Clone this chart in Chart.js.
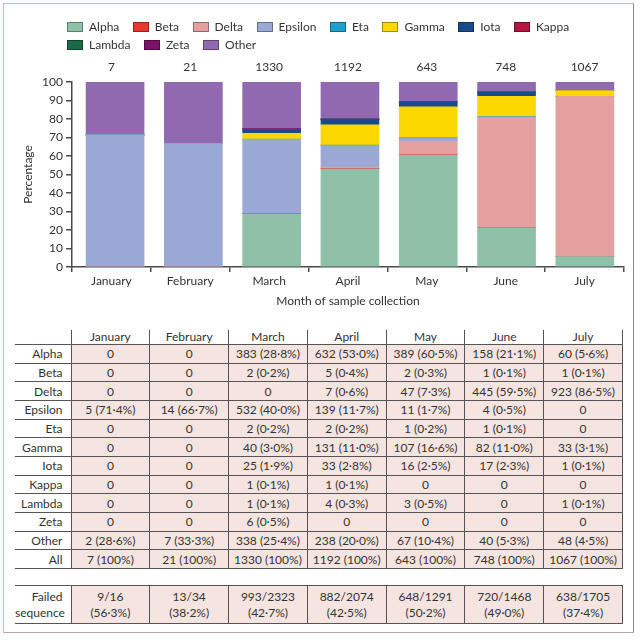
<!DOCTYPE html>
<html>
<head>
<meta charset="utf-8">
<script src="https://cdn.jsdelivr.net/npm/chart.js@4.4.0/dist/chart.umd.min.js"></script>
<style>
  html, body { margin: 0; padding: 0; background: #fff; }
  body { width: 640px; height: 640px; position: relative; overflow: hidden; font-family: Lato, sans-serif; color: #333; }
  #frame { position: absolute; left: 3px; top: 3px; width: 629px; height: 628px; border: 1.5px solid #dcaec3; border-right-color: #8e878a; border-bottom-color: #bba6b0; }
  #chartBox { position: absolute; left: 0; top: 0; }
  #legend { position: absolute; left: 67px; top: 20px; width: 540px; display: flex; flex-wrap: wrap; column-gap: 13.5px; row-gap: 4px; font-size: 12px; line-height: 14px; }
  .item { display: flex; align-items: center; }
  .swatch { width: 14px; height: 8px; border: 1px solid rgba(0,0,0,.35); margin-right: 6px; }
  table { position: absolute; left: 15px; width: 608px; border-collapse: collapse; table-layout: fixed; font-size: 12px; color: #333; }
  col.lab { width: 56px; }
  th, td { padding: 0; text-align: center; white-space: nowrap; font-weight: normal; }
  td { background: #f6e4e0; height: 17.67px; border: 1.5px solid #555; }
  td.lab { background: #fff; text-align: right; padding-right: 8px; border-left: none; }
  th { height: 14px; border-left: 1.5px solid #555; border-right: 1.5px solid #555; border-top: none; vertical-align: top; line-height: 13px; }
  th.lab { border-left: none; }
  #main { top: 330px; }
  #failed { top: 585px; }
  #failed td { height: 37px; line-height: 16px; }
</style>
</head>
<body>
<div id="frame"></div>
<div id="chartBox"><canvas id="chart" width="640" height="315"></canvas></div>
<div id="legend"></div>
<table id="main"></table>
<table id="failed"></table>
<script>
const months = ['January', 'February', 'March', 'April', 'May', 'June', 'July'];
const variants = ['Alpha', 'Beta', 'Delta', 'Epsilon', 'Eta', 'Gamma', 'Iota', 'Kappa', 'Lambda', 'Zeta', 'Other'];
const totals = [7, 21, 1330, 1192, 643, 748, 1067];

// counts per variant
const alphaN   = [0, 0, 383, 632, 389, 158, 60];
const betaN    = [0, 0, 2, 5, 2, 1, 1];
const deltaN   = [0, 0, 0, 7, 47, 445, 923];
const epsilonN = [5, 14, 532, 139, 11, 4, 0];
const etaN     = [0, 0, 2, 2, 1, 1, 0];
const gammaN   = [0, 0, 40, 131, 107, 82, 33];
const iotaN    = [0, 0, 25, 33, 16, 17, 1];
const kappaN   = [0, 0, 1, 1, 0, 0, 0];
const lambdaN  = [0, 0, 1, 4, 3, 0, 1];
const zetaN    = [0, 0, 6, 0, 0, 0, 0];
const otherN   = [2, 7, 338, 238, 67, 40, 48];

// percentages per variant
const alphaPct   = [0, 0, 28.8, 53.0, 60.5, 21.1, 5.6];
const betaPct    = [0, 0, 0.2, 0.4, 0.3, 0.1, 0.1];
const deltaPct   = [0, 0, 0, 0.6, 7.3, 59.5, 86.5];
const epsilonPct = [71.4, 66.7, 40.0, 11.7, 1.7, 0.5, 0];
const etaPct     = [0, 0, 0.2, 0.2, 0.2, 0.1, 0];
const gammaPct   = [0, 0, 3.0, 11.0, 16.6, 11.0, 3.1];
const iotaPct    = [0, 0, 1.9, 2.8, 2.5, 2.3, 0.1];
const kappaPct   = [0, 0, 0.1, 0.1, 0, 0, 0];
const lambdaPct  = [0, 0, 0.1, 0.3, 0.5, 0, 0.1];
const zetaPct    = [0, 0, 0.5, 0, 0, 0, 0];
const otherPct   = [28.6, 33.3, 25.4, 20.0, 10.4, 5.3, 4.5];

// failed sequencing
const failedN   = [9, 13, 993, 882, 648, 720, 638];
const attempted = [16, 34, 2323, 2074, 1291, 1468, 1705];
const failedPct = [56.3, 38.2, 42.7, 42.5, 50.2, 49.0, 37.4];

const countRows = [alphaN, betaN, deltaN, epsilonN, etaN, gammaN, iotaN, kappaN, lambdaN, zetaN, otherN];
const pctRows = [alphaPct, betaPct, deltaPct, epsilonPct, etaPct, gammaPct, iotaPct, kappaPct, lambdaPct, zetaPct, otherPct];
const colors = ['#8fc0a8', '#e8372d', '#e3a09f', '#9aa8d5', '#1f9fcd', '#fcd800', '#1b4a8a', '#b31442', '#1b6b47', '#7c1268', '#9069b0'];

Chart.defaults.font.family = 'Lato, sans-serif';
Chart.defaults.font.size = 12;
Chart.defaults.color = '#333';

const htmlLegend = {
  id: 'htmlLegend',
  afterUpdate(chart) {
    const box = document.getElementById('legend');
    box.innerHTML = '';
    chart.options.plugins.legend.labels.generateLabels(chart).forEach(it => {
      const item = document.createElement('div');
      item.className = 'item';
      const sw = document.createElement('span');
      sw.className = 'swatch';
      sw.style.background = it.fillStyle;
      item.appendChild(sw);
      item.appendChild(document.createTextNode(it.text));
      box.appendChild(item);
    });
  }
};

const axisColor = '#4a4a4a';

new Chart(document.getElementById('chart'), {
  type: 'bar',
  data: {
    labels: months,
    datasets: variants.map((name, i) => ({
      label: name,
      data: pctRows[i].map((v, j) => ({ x: j, y: v })),
      xAxisID: 'xb',
      backgroundColor: colors[i],
      borderWidth: 0,
      barThickness: 58
    }))
  },
  options: {
    responsive: false,
    animation: false,
    devicePixelRatio: 1,
    layout: { padding: { top: 60, left: 13, right: 16, bottom: 3 } },
    plugins: { legend: { display: false }, tooltip: { enabled: false } },
    scales: {
      // bars sit slightly right of the month ticks in the original, so they get their own axis
      xb: {
        type: 'linear',
        stacked: true,
        display: false,
        offset: false,
        bounds: 'data',
        min: -0.55,
        max: 6.5,
        grid: { offset: false }
      },
      x: {
        type: 'category',
        offset: true,
        grid: { drawOnChartArea: false, tickLength: 5, color: axisColor, lineWidth: 1.5, offset: true },
        border: { color: axisColor, width: 1.5 },
        ticks: { padding: 2, maxRotation: 0 },
        title: { display: true, text: 'Month of sample collection', padding: { top: 4, bottom: 4 } },
        afterFit(s) { s.height = 45; }
      },
      x2: {
        type: 'category',
        position: 'top',
        labels: totals.map(String),
        offset: true,
        grid: { display: false, drawTicks: false },
        border: { display: false },
        ticks: { padding: 7.5 },
        afterFit(s) { s.height = 22; }
      },
      y: {
        stacked: true,
        min: 0,
        max: 100,
        ticks: { stepSize: 10, padding: 3 },
        grid: { drawOnChartArea: false, tickLength: 6, color: axisColor, lineWidth: 1.5 },
        border: { color: axisColor, width: 1.5 },
        title: { display: true, text: 'Percentage', padding: { top: 8, bottom: 4 } },
        afterFit(s) { s.width = 59; }
      }
    }
  },
  plugins: [htmlLegend]
});

// tables
const fmt = v => v === 100 ? '100' : v.toFixed(1).replace('.', '\u00b7');

function colgroup() {
  return '<colgroup><col class="lab">' + months.map(() => '<col>').join('') + '</colgroup>';
}

let html = colgroup();
html += '<tr><th class="lab"></th>' + months.map(m => '<th>' + m + '</th>').join('') + '</tr>';
variants.forEach((name, i) => {
  html += '<tr><td class="lab">' + name + '</td>';
  months.forEach((m, j) => {
    const n = countRows[i][j];
    html += '<td>' + (n === 0 ? '0' : n + ' (' + fmt(pctRows[i][j]) + '%)') + '</td>';
  });
  html += '</tr>';
});
html += '<tr><td class="lab">All</td>' + totals.map(t => '<td>' + t + ' (100%)</td>').join('') + '</tr>';
document.getElementById('main').innerHTML = html;

let html2 = colgroup();
html2 += '<tr><td class="lab">Failed<br>sequence</td>';
months.forEach((m, j) => {
  html2 += '<td>' + failedN[j] + '/' + attempted[j] + '<br>(' + fmt(failedPct[j]) + '%)</td>';
});
html2 += '</tr>';
document.getElementById('failed').innerHTML = html2;
</script>
</body>
</html>
